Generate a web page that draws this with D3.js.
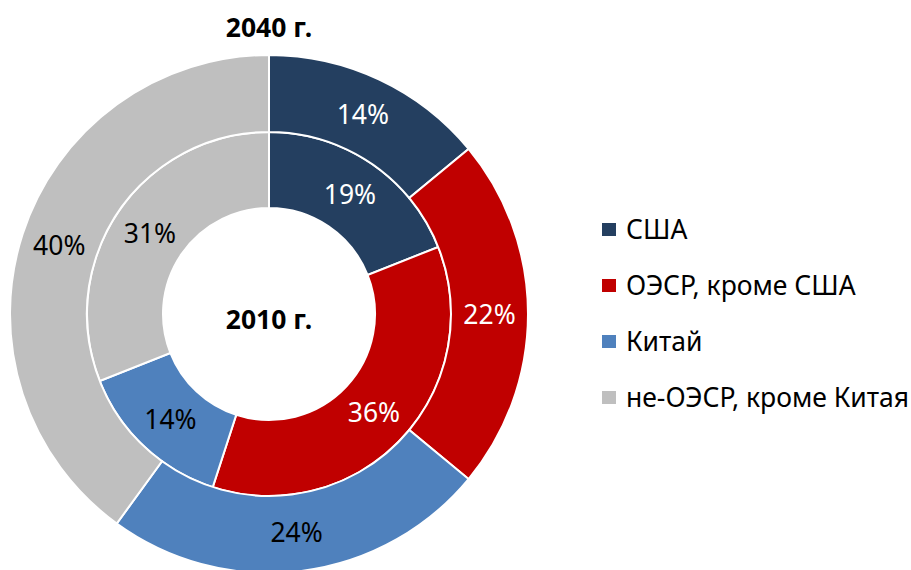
<!DOCTYPE html>
<html>
<head>
<meta charset="utf-8">
<script src="https://cdn.jsdelivr.net/npm/d3@7"></script>
<style>
  body { margin: 0; background: #fff; }
  svg { display: block; font-family: "Noto Sans", sans-serif; }
</style>
</head>
<body>
<svg id="chart" width="911" height="570"></svg>
<script>
// Data
const categories = ["США", "ОЭСР, кроме США", "Китай", "не-ОЭСР, кроме Китая"];
const values2010 = [19, 36, 14, 31];
const values2040 = [14, 22, 24, 40];
const colors = ["#243F60", "#C00000", "#4F81BD", "#BFBFBF"];
const labelColors = ["#fff", "#fff", "#000", "#000"];

const svg = d3.select("#chart");
const cx = 269, cy = 314;
const fs = 26.5;

const pie = d3.pie().sort(null).value(d => d);

// inner ring = 2010, outer ring = 2040
const rings = [
  { values: values2010, inner: 106, outer: 182 },
  { values: values2040, inner: 182, outer: 259 },
];

const g = svg.append("g").attr("transform", "translate(" + cx + "," + cy + ")");

rings.forEach(ring => {
  const arc = d3.arc().innerRadius(ring.inner).outerRadius(ring.outer);
  const mid = (ring.inner + ring.outer) / 2;
  const labelArc = d3.arc().innerRadius(mid).outerRadius(mid);
  const arcs = pie(ring.values);

  g.append("g").selectAll("path")
    .data(arcs)
    .enter()
    .append("path")
    .attr("d", arc)
    .attr("fill", (d, i) => colors[i])
    .attr("stroke", "#fff")
    .attr("stroke-width", 2);

  g.append("g").selectAll("text")
    .data(arcs)
    .enter()
    .append("text")
    .attr("transform", d => "translate(" + labelArc.centroid(d) + ")")
    .attr("text-anchor", "middle")
    .attr("dy", "0.36em")
    .attr("font-size", fs)
    .attr("fill", (d, i) => labelColors[i])
    .text(d => d.data + "%");
});

// titles
svg.append("text")
  .attr("x", cx).attr("y", 37)
  .attr("text-anchor", "middle")
  .attr("font-size", fs).attr("font-weight", "bold")
  .text("2040 г.");

svg.append("text")
  .attr("x", cx).attr("y", 329)
  .attr("text-anchor", "middle")
  .attr("font-size", fs).attr("font-weight", "bold")
  .text("2010 г.");

// legend
const legendY = d3.scalePoint().domain(categories).range([229.5, 397.5]);
const legend = svg.append("g").selectAll("g")
  .data(categories)
  .enter()
  .append("g")
  .attr("transform", d => "translate(602," + legendY(d) + ")");

legend.append("rect")
  .attr("x", 0).attr("y", -6.5)
  .attr("width", 14).attr("height", 13)
  .attr("fill", (d, i) => colors[i]);

legend.append("text")
  .attr("x", 24).attr("dy", "0.36em")
  .attr("font-size", fs)
  .attr("fill", "#000")
  .text(d => d);
</script>
</body>
</html>
